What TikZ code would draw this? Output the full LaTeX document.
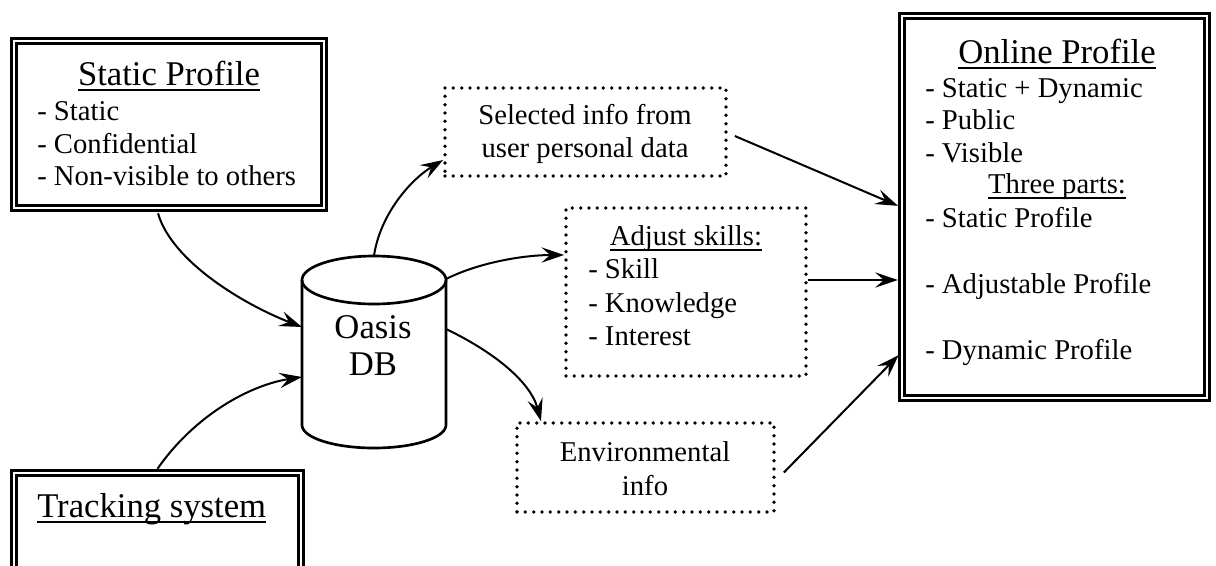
\documentclass[tikz,border=0pt]{standalone}
\usepackage{fontspec}
\setmainfont{Liberation Serif}
\usetikzlibrary{arrows.meta}

% text with a rule set a fixed distance under the baseline
\newcommand\ulbox[1]{\setbox0=\hbox{#1}\rlap{\rule[-4.6pt]{\wd0}{1.5pt}}\box0}

\tikzset{
  every node/.style={inner sep=0pt},
  body/.style={font=\fontsize{21.5pt}{25pt}\selectfont},
  head/.style={font=\fontsize{26pt}{30pt}\selectfont},
  framebox/.style={draw, double, line width=1.9pt, double distance=1.8pt, rectangle},
  dotbox/.style={draw, line width=2.8pt, dash pattern=on 0pt off 6.25pt, line cap=round, rectangle},
  cyl/.style={line width=2pt},
  link/.style={line width=1.5pt, -{Stealth[length=17pt,width=11.5pt,inset=6.5pt]}},
  into/.style={link, shorten >=2.2pt}
}

\begin{document}
\begin{tikzpicture}[x=0.75pt, y=-0.75pt]
\useasboundingbox (0,0) rectangle (1216,565);
\fill[white] (0,0) rectangle (1216,565);

% frames
\node[framebox, minimum width=232.5pt, minimum height=125.25pt] (sp) at (169,124.5) {};
\node[framebox, minimum width=215.25pt, minimum height=110.25pt] (ts) at (157.5,546.5) {};
\node[framebox, minimum width=228.75pt, minimum height=286.5pt] (op) at (1054.5,207) {};
\node[dotbox, minimum width=210.75pt, minimum height=66pt] (sel) at (585.5,132) {};
\node[dotbox, minimum width=180pt, minimum height=126pt] (adj) at (686,292) {};
\node[dotbox, minimum width=192.75pt, minimum height=66.75pt] (env) at (645.5,467.5) {};

% database cylinder
\node[minimum width=108pt, minimum height=144pt] (db) at (374,352) {};
\draw[cyl] (374,280) ellipse [x radius=54pt, y radius=18pt];
\draw[cyl] (302,280) -- (302,425) arc[start angle=180, end angle=360, x radius=54pt, y radius=17.25pt] -- (446,280);
\node[head, anchor=base] (db-a) at (373,338) {Oasis};
\node[head, anchor=base] (db-b) at (373,375) {DB};

\coordinate (dbw1) at (302,327);
\coordinate (dbw2) at (302,377);
\coordinate (dbne) at (446,279);
\coordinate (dbe) at (446,329);

% static profile
\node[head, anchor=base] (sp-t) at (169,85) {\ulbox{Static Profile}};
\node[body, anchor=base west] (sp-a) at (37,120) {- Static};
\node[body, anchor=base west] (sp-b) at (37,153) {- Confidential};
\node[body, anchor=base west] (sp-c) at (37,185) {- Non-visible to others};

% tracking system
\node[head, anchor=base west] (ts-t) at (37,517) {\ulbox{Tracking system}};

% selected info
\node[body, anchor=base] (sel-a) at (585,124) {Selected info from};
\node[body, anchor=base] (sel-b) at (585,157) {user personal data};

% adjust skills
\node[body, anchor=base] (adj-t) at (686,245) {\ulbox{Adjust skills:}};
\node[body, anchor=base west] (adj-a) at (588,278) {- Skill};
\node[body, anchor=base west] (adj-b) at (588,312) {- Knowledge};
\node[body, anchor=base west] (adj-c) at (588,345) {- Interest};

% environmental info
\node[body, anchor=base] (env-a) at (645,461) {Environmental};
\node[body, anchor=base] (env-b) at (645,495) {info};

% online profile
\node[head, anchor=base] (op-t) at (1057,63) {\ulbox{Online Profile}};
\node[body, anchor=base west] (op-a) at (925,97) {- Static + Dynamic};
\node[body, anchor=base west] (op-b) at (925,129) {- Public};
\node[body, anchor=base west] (op-c) at (925,162) {- Visible};
\node[body, anchor=base] (op-d) at (1057,193) {\ulbox{Three parts:}};
\node[body, anchor=base west] (op-e) at (925,227) {- Static Profile};
\node[body, anchor=base west] (op-f) at (925,293) {- Adjustable Profile};
\node[body, anchor=base west] (op-g) at (925,359) {- Dynamic Profile};

% connectors into the database
\draw[link] ([shift={(-11,4)}]sp.south) .. controls (172,262) and (245,305) .. (dbw1);
\draw[link] ([shift={(0,-3)}]ts.north) .. controls (195,415) and (250,385) .. (dbw2);

% connectors out of the database
\draw[link] (db.north) .. controls (380,215) and (410,180) .. (sel.west |- 0,160);
\draw[link] (dbne) .. controls (480,262) and (525,255) .. (adj.west |- 0,255);
\draw[link] (dbe) .. controls (490,350) and (530,380) .. (env.north -| 541,0);

% connectors into the online profile
\draw[into] ([shift={(7,4)}]sel.east) -- (op.west |- 0,207);
\draw[into] (adj.east |- 0,280) -- (op.west |- 0,280);
\draw[into] ([shift={(8,5)}]env.east) -- (op.west |- 0,353);
\end{tikzpicture}
\end{document}
